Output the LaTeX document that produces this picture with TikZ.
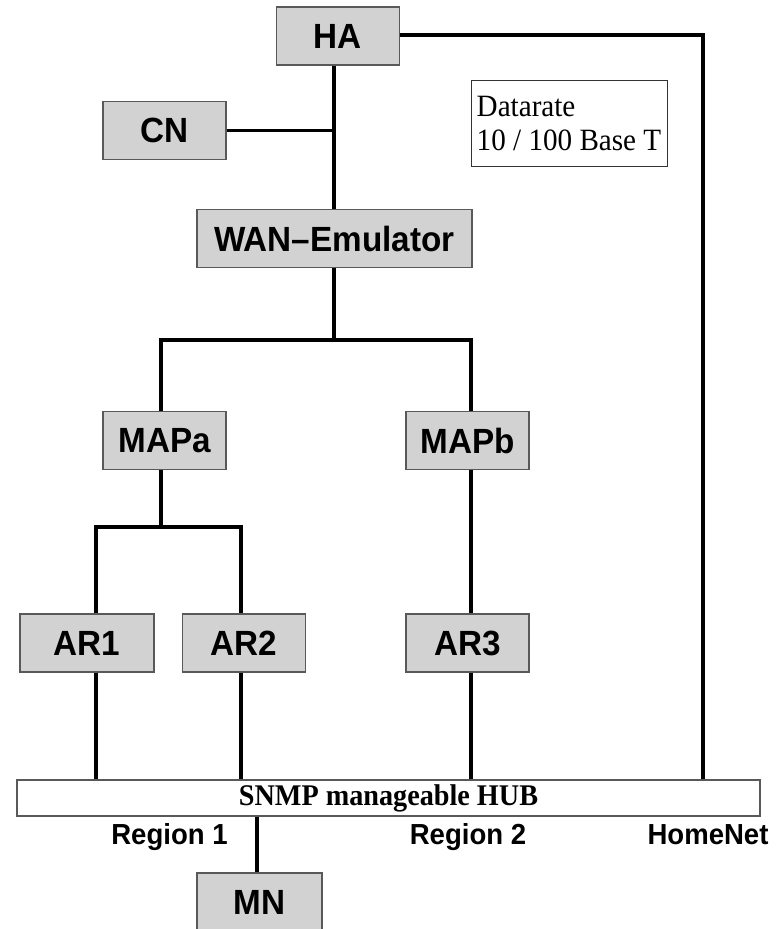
\documentclass[tikz,border=0pt]{standalone}
\usepackage{fontspec}
\setmainfont{Liberation Serif}
\newfontfamily\boxfont[FakeStretch=0.95]{Liberation Sans}
\newfontfamily\notefont[FakeStretch=0.94]{Liberation Serif}
\newfontfamily\hubfont[FakeStretch=0.94]{Liberation Serif}
\begin{document}
\begin{tikzpicture}[x=1pt,y=-1pt,
  unit/.style={draw=black!65, line width=1.2pt, fill=gray!35,
    minimum width=123pt, minimum height=58pt, inner sep=0pt,
    font=\boxfont\bfseries\fontsize{35}{35}\selectfont},
  wire/.style={line width=3.8pt, black, line join=miter},
  region/.style={anchor=base, inner sep=0pt,
    font=\boxfont\bfseries\fontsize{29}{29}\selectfont}]
\useasboundingbox (0,0) rectangle (778,929);

% devices
\node[unit] (HA)    at (338,36)    {HA};
\node[unit] (CN)    at (164.5,130.5) {CN};
\node[unit, minimum width=275pt] (WAN) at (334.5,238.5) {WAN\textendash Emulator};
\node[unit] (MAPa)  at (164.5,440.5) {MAPa};
\node[unit] (MAPb)  at (467.5,440.5) {MAPb};
\node[unit, minimum width=134pt] (AR1) at (87,643) {AR1};
\node[unit] (AR2)   at (244,643)   {AR2};
\node[unit] (AR3)   at (467.5,643) {AR3};
\node[unit, minimum width=125pt] (MN) at (259.5,902) {MN};

% hub bar
\node[draw=black!65, line width=1.2pt, fill=white, minimum width=743pt,
  minimum height=36pt, inner sep=0pt,
  font=\hubfont\bfseries\fontsize{30}{30}\selectfont] (HUB) at (388.5,798) {SNMP manageable HUB};

% data rate note
\node[draw=black!80, line width=1pt, minimum width=196pt, minimum height=86pt,
  align=left, inner sep=3pt, font=\notefont\fontsize{31}{34}\selectfont] (rate) at (569,123)
  {Datarate\\10 / 100 Base T};

% segment labels
\node[region] (r1) at (169.5,844) {Region 1};
\node[region] (r2) at (468,844)   {Region 2};
\node[region] (hn) at (708,844)   {HomeNet};

% bus positions
\coordinate (cj) at (334,131);
\coordinate (wj) at (334,340);
\coordinate (aj) at (161,527);
\coordinate (xa) at (161,340);
\coordinate (xb) at (471,340);
\coordinate (x1) at (96,527);
\coordinate (x2) at (241,527);
\coordinate (hr) at (703,35);
\coordinate (mx) at (257,816);

% wiring
\draw[wire] (HA.south -| cj) -- (WAN.north -| cj);
\draw[wire] (CN.east) -- (CN.east -| cj);
\draw[wire] (HA.east |- hr) -- (hr) -- (HUB.north -| hr);
\draw[wire] (WAN.south -| wj) -- (wj);
\draw[wire] (MAPa.north -| xa) -- (xa) -- (xb) -- (MAPb.north -| xb);
\draw[wire] (MAPa.south -| aj) -- (aj);
\draw[wire] (AR1.north -| x1) -- (x1) -- (x2) -- (AR2.north -| x2);
\draw[wire] (MAPb.south -| xb) -- (AR3.north -| xb);
\draw[wire] (AR1.south -| x1) -- (HUB.north -| x1);
\draw[wire] (AR2.south -| x2) -- (HUB.north -| x2);
\draw[wire] (AR3.south -| xb) -- (HUB.north -| xb);
\draw[wire] (HUB.south -| mx) -- (MN.north -| mx);
\end{tikzpicture}
\end{document}
